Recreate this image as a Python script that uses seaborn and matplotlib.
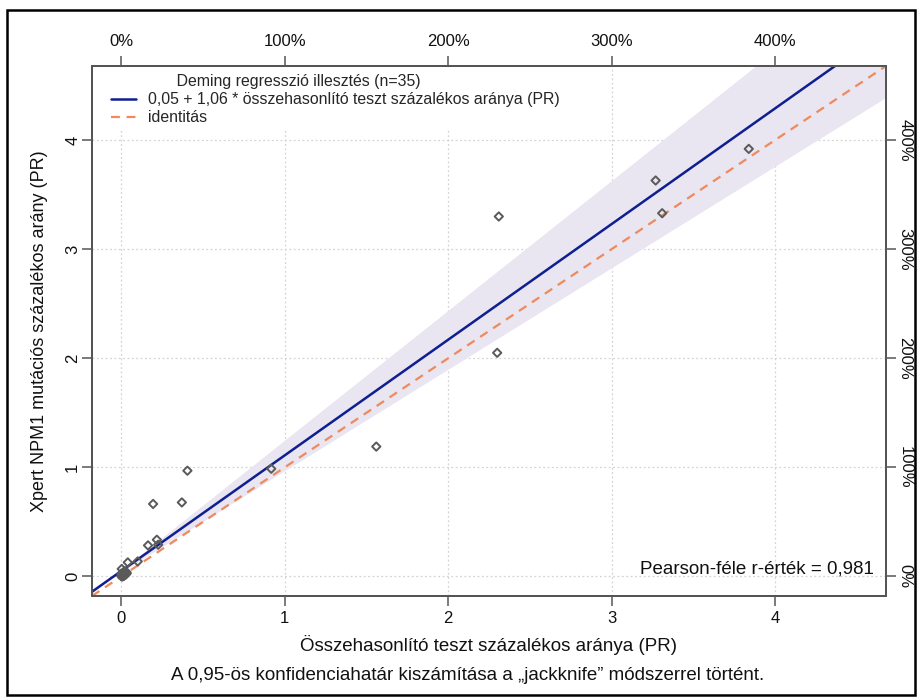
import numpy as np
import pandas as pd
import matplotlib
matplotlib.use("Agg")
import matplotlib.pyplot as plt
from matplotlib.patches import Rectangle
from matplotlib.lines import Line2D
import seaborn as sns

# ---- data ----
comparator_pr = [0.404, 0.194, 0.370, 0.917, 0.163, 0.217, 0.225, 0.039, 0.100, 0.002,
                 2.31, 2.30, 1.56, 3.27, 3.31, 3.84,
                 0.000, 0.005, 0.010, 0.015, 0.020, 0.025, 0.030, 0.000, 0.008, 0.012,
                 0.018, 0.022, 0.028, 0.004, 0.014, 0.026, 0.033, 0.006, 0.016]
xpert_pr = [0.969, 0.664, 0.678, 0.987, 0.284, 0.336, 0.290, 0.128, 0.137, 0.068,
            3.30, 2.05, 1.19, 3.63, 3.33, 3.92,
            0.000, 0.010, 0.020, 0.005, 0.030, 0.015, 0.040, 0.025, 0.000, 0.035,
            0.012, 0.045, 0.022, 0.018, 0.008, 0.038, 0.028, 0.002, 0.042]
fit_intercept, fit_slope = 0.05, 1.06
ci_lower_intercept, ci_lower_slope = 0.04, 0.93
ci_upper_intercept, ci_upper_slope = 0.06, 1.19
pearson_r = "0,981"
axis_ticks = [0, 1, 2, 3, 4]
pct_labels = ["0%", "100%", "200%", "300%", "400%"]
lim = (-0.18, 4.68)

sns.set_theme(style="white")
plt.rcParams["font.family"] = ["Liberation Sans", "DejaVu Sans"]

TXT = "#111111"
TICKC = "#7a7a7a"

fig = plt.figure(figsize=(9.18, 6.98), dpi=100)
ax = fig.add_axes([92 / 918, 1 - 596 / 698, (886 - 92) / 918, (596 - 66) / 698])

xs = np.linspace(lim[0], lim[1], 200)
band = pd.DataFrame({
    "x": xs,
    "lo": ci_lower_intercept + ci_lower_slope * xs,
    "hi": ci_upper_intercept + ci_upper_slope * xs,
    "fit": fit_intercept + fit_slope * xs,
    "ident": xs,
})
ax.fill_between(band["x"], band["lo"], band["hi"], color="#e9e5f1", lw=0, zorder=1)
sns.lineplot(data=band, x="x", y="fit", ax=ax, color="#0f1f8f", lw=1.8, zorder=3)
sns.lineplot(data=band, x="x", y="ident", ax=ax, color="#ee8a5c", lw=1.6,
             linestyle=(0, (4, 3)), zorder=3)

pts = pd.DataFrame({"comp": comparator_pr, "xpert": xpert_pr})
sns.scatterplot(data=pts, x="comp", y="xpert", ax=ax, marker="D", s=18,
                facecolor="none", edgecolor="#5a5a5a", linewidth=1.4, zorder=4)

ax.set_xlim(*lim)
ax.set_ylim(*lim)
ax.set_xticks(axis_ticks)
ax.set_yticks(axis_ticks)
ax.set_xticklabels([str(t) for t in axis_ticks])
ax.set_yticklabels([str(t) for t in axis_ticks], rotation=90, va="center")
ax.grid(True, color="#d4d4d4", linestyle=(0, (1.5, 2)), lw=0.9)
ax.set_axisbelow(True)
for s in ax.spines.values():
    s.set_color("#555555")
    s.set_linewidth(1.2)
ax.tick_params(axis="x", which="major", direction="out", length=7.5, width=1.4,
               color=TICKC, labelsize=12, labelcolor=TXT, pad=3, bottom=True)
ax.tick_params(axis="y", which="major", direction="out", length=7.5, width=1.4,
               color=TICKC, labelsize=12, labelcolor=TXT, pad=1, left=True)
ax.set_xlabel("Összehasonlító teszt százalékos aránya (PR)", fontsize=13.5, color=TXT)
ax.set_ylabel("Xpert NPM1 mutációs százalékos arány (PR)", fontsize=13, color=TXT)
ax.xaxis.set_label_coords(0.5, (596 - 645) / 530)
ax.xaxis.label.set_va("center")
ax.yaxis.set_label_coords((40 - 92) / 794, 0.5)
ax.yaxis.label.set_va("center")

# top and right percent axes
axt = ax.twiny()
axt.set_xlim(*lim)
axt.set_xticks(axis_ticks)
axt.set_xticklabels(pct_labels)
axt.tick_params(axis="x", direction="out", length=7.5, width=1.4, color=TICKC,
                labelsize=12, labelcolor=TXT, pad=5)
axr = ax.twinx()
axr.set_ylim(*lim)
axr.set_yticks(axis_ticks)
axr.set_yticklabels(pct_labels, rotation=270, va="center")
axr.tick_params(axis="y", direction="out", length=7.5, width=1.4, color=TICKC,
                labelsize=12, labelcolor=TXT, pad=0.8)
for a in (axt, axr):
    for s in a.spines.values():
        s.set_color("#555555")
        s.set_linewidth(1.2)
    a.grid(False)

handles = [Line2D([], [], color="#0f1f8f", lw=1.8),
           Line2D([], [], color="#ee8a5c", lw=1.6, linestyle=(0, (4, 3)))]
labels = [f"{fit_intercept:.2f}".replace(".", ",") + " + " +
          f"{fit_slope:.2f}".replace(".", ",") + " * összehasonlító teszt százalékos aránya (PR)",
          "identitás"]
leg = axr.legend(handles, labels,
                 title="               Deming regresszió illesztés (n=35)",
                 loc="upper left", bbox_to_anchor=(0.014, 1.0), fontsize=11.4,
                 title_fontsize=11.4, frameon=True, facecolor="white", edgecolor="white",
                 framealpha=1, handlelength=1.6, handletextpad=0.75, labelspacing=0.2,
                 borderaxespad=0.2, borderpad=0.3, alignment="left")
leg.get_frame().set_linewidth(0)

ax.text(0.985, (596 - 569) / 530, f"Pearson-féle r-érték = {pearson_r}", transform=ax.transAxes,
        ha="right", va="center", fontsize=13.5, color=TXT, zorder=6)

fig.text(468 / 918, 1 - 676 / 698,
         "A 0,95-ös konfidenciahatár kiszámítása a „jackknife” módszerrel történt.",
         ha="center", va="center", fontsize=13.5, color=TXT)

fig.patches.append(Rectangle((7 / 918, 3 / 698), (915 - 7) / 918, (688 - 3) / 698,
                             transform=fig.transFigure, fill=False, edgecolor="black",
                             linewidth=1.8))

fig.savefig("out.png", dpi=100)
